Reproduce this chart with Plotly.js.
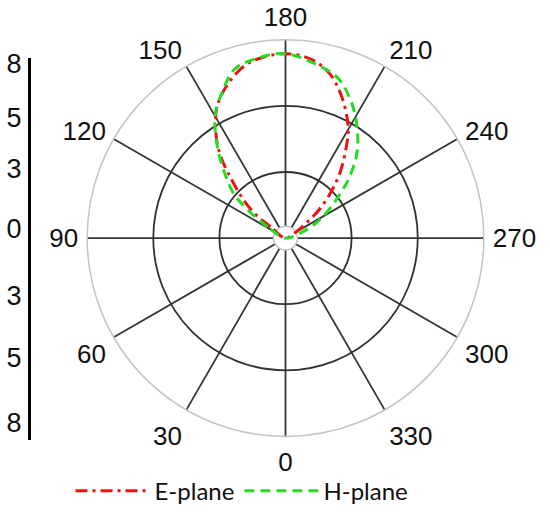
<!DOCTYPE html>
<html>
<head>
<meta charset="utf-8">
<script src="https://cdn.plot.ly/plotly-3.0.1.min.js"></script>
<style>html,body{margin:0;padding:0;background:#fff;}#chart{width:550px;height:514px;}</style>
</head>
<body>
<div id="chart"></div>
<script>
// Angular tick labels (degrees)
var angleTicks = [0, 30, 60, 90, 120, 150, 180, 210, 240, 270, 300, 330];
// Left scale labels (top to bottom)
var leftAxisLabels = ['8', '5', '3', '0', '3', '5', '8'];

// E-plane pattern (angle in degrees, normalized radius, outer ring = 3)
var eTheta = [125, 127, 128.5, 133.3, 137.3, 141.0, 144.4, 148.8, 152.6, 158.9, 166.6, 172.2, 180, 187.6, 194.6, 201.5, 209.2, 213.5, 219.9, 224.9, 229.9, 234.3, 239.7, 242];
var eR     = [0, 0.285, 0.60, 0.92, 1.20, 1.53, 1.78, 2.04, 2.25, 2.47, 2.68, 2.75, 2.79, 2.74, 2.59, 2.31, 1.94, 1.67, 1.28, 0.96, 0.66, 0.38, 0.19, 0];

// H-plane pattern
var hTheta = [119, 122, 126.8, 130.8, 137.9, 143.4, 150, 156.4, 163.3, 172, 180, 189.9, 198.4, 207, 214.4, 220.8, 227, 231.8, 236.9, 243.9, 251.4, 256];
var hR     = [0, 0.32, 0.71, 1.04, 1.40, 1.73, 2.13, 2.40, 2.67, 2.76, 2.79, 2.67, 2.54, 2.24, 1.93, 1.64, 1.30, 1.02, 0.78, 0.51, 0.23, 0];

var traces = [
  // invisible trace so the grid subplot is drawn
  {type: 'scatterpolar', subplot: 'polar', theta: [0], r: [1], mode: 'markers', marker: {opacity: 0}, showlegend: false, hoverinfo: 'skip'},
  {type: 'scatterpolar', subplot: 'polar2', name: 'E-plane', theta: eTheta, r: eR, mode: 'lines',
   line: {color: '#ee1111', width: 3, dash: '12px,5px,3px,5px', shape: 'spline'}},
  {type: 'scatterpolar', subplot: 'polar2', name: 'H-plane', theta: hTheta, r: hR, mode: 'lines',
   line: {color: '#22dd22', width: 3, dash: '10px,6px', shape: 'spline'}},
  // invisible trace to host the left scale axis
  {type: 'scatter', x: [0], y: [250], mode: 'markers', marker: {opacity: 0}, showlegend: false, hoverinfo: 'skip', xaxis: 'x', yaxis: 'y'}
];

var fontMain = '"Liberation Sans", Arial, sans-serif';
var dom = {x: [0.1564, 0.8818], y: [0.1459, 0.9222]};

var layout = {
  width: 550, height: 514,
  margin: {l: 0, r: 0, t: 0, b: 0},
  paper_bgcolor: '#fff',
  plot_bgcolor: 'rgba(0,0,0,0)',
  showlegend: true,
  legend: {orientation: 'h', x: 0.44, xanchor: 'center', y: 0.039, yanchor: 'middle',
           font: {family: 'Lato, sans-serif', size: 24, color: '#111'}, itemwidth: 74, bgcolor: 'rgba(0,0,0,0)'},
  polar: {
    domain: dom,
    hole: 0.06,
    bgcolor: 'rgba(0,0,0,0)',
    radialaxis: {range: [0.18, 3], tickvals: [1, 2], showticklabels: false, ticks: '', showline: false,
                 gridcolor: '#303030', gridwidth: 1.8},
    angularaxis: {rotation: 270, direction: 'clockwise', tickvals: angleTicks, ticktext: angleTicks.map(String),
                  ticks: 'outside', ticklen: 3, tickcolor: 'rgba(0,0,0,0)',
                  showline: true, linecolor: '#c4c4c4', linewidth: 1.5,
                  gridcolor: '#353535', gridwidth: 1.8,
                  tickfont: {family: fontMain, size: 26, color: '#111'}}
  },
  polar2: {
    domain: dom,
    bgcolor: 'rgba(0,0,0,0)',
    radialaxis: {range: [0, 3], visible: false},
    angularaxis: {rotation: 270, direction: 'clockwise', visible: false}
  },
  xaxis: {domain: [0.0564, 0.06], visible: false, range: [-1, 1], fixedrange: true},
  yaxis: {anchor: 'x', domain: [0.1381, 0.8872], range: [443, 58], showline: true, linewidth: 3, linecolor: '#000',
          ticks: '', showgrid: false, zeroline: false,
          tickvals: [64, 118, 170, 230, 297, 360, 425], ticktext: leftAxisLabels,
          tickfont: {family: fontMain, size: 27, color: '#111'}, ticklabelstandoff: 1}
};

Plotly.newPlot('chart', traces, layout, {displayModeBar: false, staticPlot: true});
</script>
</body>
</html>
